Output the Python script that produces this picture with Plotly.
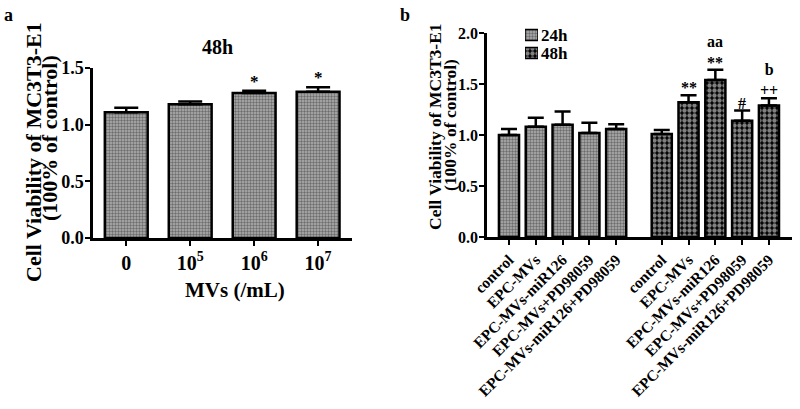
import plotly.graph_objects as go

# ---- data ----
a_labels = ["0", "10<sup>5</sup>", "10<sup>6</sup>", "10<sup>7</sup>"]
a_values = [1.11, 1.18, 1.28, 1.29]
a_err = [0.04, 0.025, 0.02, 0.04]
a_marks = ["", "", "*", "*"]

b_groups = ["control", "EPC-MVs", "EPC-MVs-miR126", "EPC-MVs+PD98059", "EPC-MVs-miR126+PD98059"]
b_24h = [1.00, 1.08, 1.10, 1.02, 1.06]
b_24h_err = [0.06, 0.09, 0.13, 0.10, 0.045]
b_48h = [1.01, 1.32, 1.54, 1.14, 1.29]
b_48h_err = [0.04, 0.07, 0.10, 0.10, 0.07]
b_48h_marks = ["", "**", "aa<br>**", "#", "b<br>++"]

legend_names = ["24h", "48h"]
legend_fill = [1, 1]

pos24 = [0, 1, 2, 3, 4]
pos48 = [5.7, 6.7, 7.7, 8.7, 9.7]

FONT = "Liberation Serif"
W, H = 800, 409

def px_x(p):
    return p / W

def px_y(p):
    return 1 - p / H

fig = go.Figure()

gray_pattern = dict(shape=".", fgcolor="#2a2a2a", bgcolor="#b0b0b0", size=3, solidity=0.5)
check_pattern = dict(shape=".", fgcolor="white", bgcolor="black", size=5, solidity=0.6)

fig.add_trace(go.Bar(
    x=[0, 1, 2, 3], y=a_values, width=0.67, xaxis="x", yaxis="y",
    marker=dict(color="#b0b0b0", line=dict(color="black", width=2.5), pattern=gray_pattern),
    error_y=dict(type="data", symmetric=False, array=a_err, arrayminus=[0] * 4,
                 color="black", thickness=2.5, width=12),
    showlegend=False,
))

fig.add_trace(go.Bar(
    x=pos24, y=b_24h, width=0.75, xaxis="x2", yaxis="y2", name="24h",
    marker=dict(color="#b0b0b0", line=dict(color="black", width=2.5), pattern=gray_pattern),
    error_y=dict(type="data", symmetric=False, array=b_24h_err, arrayminus=[0] * 5,
                 color="black", thickness=2.5, width=8),
    showlegend=False,
))
fig.add_trace(go.Bar(
    x=pos48, y=b_48h, width=0.75, xaxis="x2", yaxis="y2", name="48h",
    marker=dict(color="black", line=dict(color="black", width=2.5), pattern=check_pattern),
    error_y=dict(type="data", symmetric=False, array=b_48h_err, arrayminus=[0] * 5,
                 color="black", thickness=2.5, width=8),
    showlegend=False,
))

# legend swatches (drawn on a small hidden axis, labels as tick labels)
fig.add_trace(go.Bar(
    y=[legend_names[0]], x=[legend_fill[0]], orientation="h", width=0.6, xaxis="x3", yaxis="y3",
    marker=dict(color="#b0b0b0", line=dict(color="black", width=1.5), pattern=gray_pattern),
    showlegend=False, hoverinfo="skip",
))
fig.add_trace(go.Bar(
    y=[legend_names[1]], x=[legend_fill[1]], orientation="h", width=0.6, xaxis="x3", yaxis="y3",
    marker=dict(color="black", line=dict(color="black", width=1.5), pattern=check_pattern),
    showlegend=False, hoverinfo="skip",
))

axis_common = dict(showline=True, linecolor="black", linewidth=2.5, ticks="outside",
                   ticklen=5, tickwidth=2, tickcolor="black", showgrid=False, zeroline=False,
                   automargin=False,
                   tickfont=dict(family=FONT, size=18, color="black", weight="bold"))

fig.update_layout(
    width=W, height=H, margin=dict(l=0, r=0, t=0, b=0, autoexpand=False),
    paper_bgcolor="white", plot_bgcolor="white",
    font=dict(family=FONT, color="black", weight="bold"),
    barmode="overlay", showlegend=False,
    xaxis=dict(domain=[px_x(93), px_x(352)], range=[-0.52, 3.53], anchor="y",
               tickvals=[0, 1, 2, 3], ticktext=a_labels,
               **{**axis_common, "tickfont": dict(family=FONT, size=20, color="black", weight="bold")}),
    yaxis=dict(domain=[px_y(238), px_y(68)], range=[0, 1.5], anchor="x", ticklabelstandoff=-2,
               tickvals=[0, 0.5, 1.0, 1.5], ticktext=["0.0", "0.5", "1.0", "1.5"], **axis_common),
    xaxis2=dict(domain=[px_x(487), px_x(792)], range=[-0.82, 10.56], anchor="y2",
                tickvals=pos24 + pos48, ticktext=b_groups + b_groups, tickangle=-45,
                **{**axis_common, "tickfont": dict(family=FONT, size=15.5, color="black", weight="bold")}),
    yaxis2=dict(domain=[px_y(237), px_y(33)], range=[0, 2.0], anchor="x2", ticklabelstandoff=-2,
                tickvals=[0, 0.5, 1.0, 1.5, 2.0], ticktext=["0.0", "0.5", "1.0", "1.5", "2.0"],
                **{**axis_common, "tickfont": dict(family=FONT, size=16, color="black", weight="bold")}),
    xaxis3=dict(domain=[px_x(525), px_x(538)], range=[0, 1], anchor="y3", visible=False,
                fixedrange=True),
    yaxis3=dict(domain=[px_y(62), px_y(26)], anchor="x3", side="right", showline=False,
                ticks="", showgrid=False, zeroline=False, automargin=False, ticklabelstandoff=2,
                tickmode="array", tickvals=legend_names, ticktext=legend_names,
                categoryorder="array", categoryarray=legend_names[::-1], fixedrange=True,
                tickfont=dict(family=FONT, size=17, color="black", weight="bold")),
)

ann = []
def label(text, x, y, size, angle=0, xa="center", ya="middle"):
    ann.append(dict(text=text, x=px_x(x), y=px_y(y), xref="paper", yref="paper", showarrow=False,
                    textangle=angle, xanchor=xa, yanchor=ya, font=dict(size=size)))

label("a", 2, 15, 18, xa="left")
label("b", 398, 15, 18, xa="left")
label("48h", 217, 47, 20)
label("Cell Viability of MC3T3-E1", 34, 152, 22, angle=-90)
label("(100% of control)", 49, 138, 22, angle=-90)
label("Cell Viability of MC3T3-E1", 435, 126, 17.5, angle=-90)
label("(100% of control)", 450, 125, 17.5, angle=-90)
label("MVs (/mL)", 235, 290, 21)

for i, m in enumerate(a_marks):
    if m:
        ann.append(dict(text=m, x=i, y=a_values[i] + a_err[i], xref="x", yref="y",
                        showarrow=False, yanchor="bottom", yshift=-2, font=dict(size=17)))
for i, m in enumerate(b_48h_marks):
    if m:
        ann.append(dict(text=m, x=pos48[i], y=b_48h[i] + b_48h_err[i], xref="x2", yref="y2",
                        showarrow=False, yanchor="bottom", yshift=-3, font=dict(size=16)))

fig.update_layout(annotations=ann)
fig.write_html("out.html", config={"displayModeBar": False},
               post_script="document.body.style.margin='0';document.body.style.overflow='hidden';")
